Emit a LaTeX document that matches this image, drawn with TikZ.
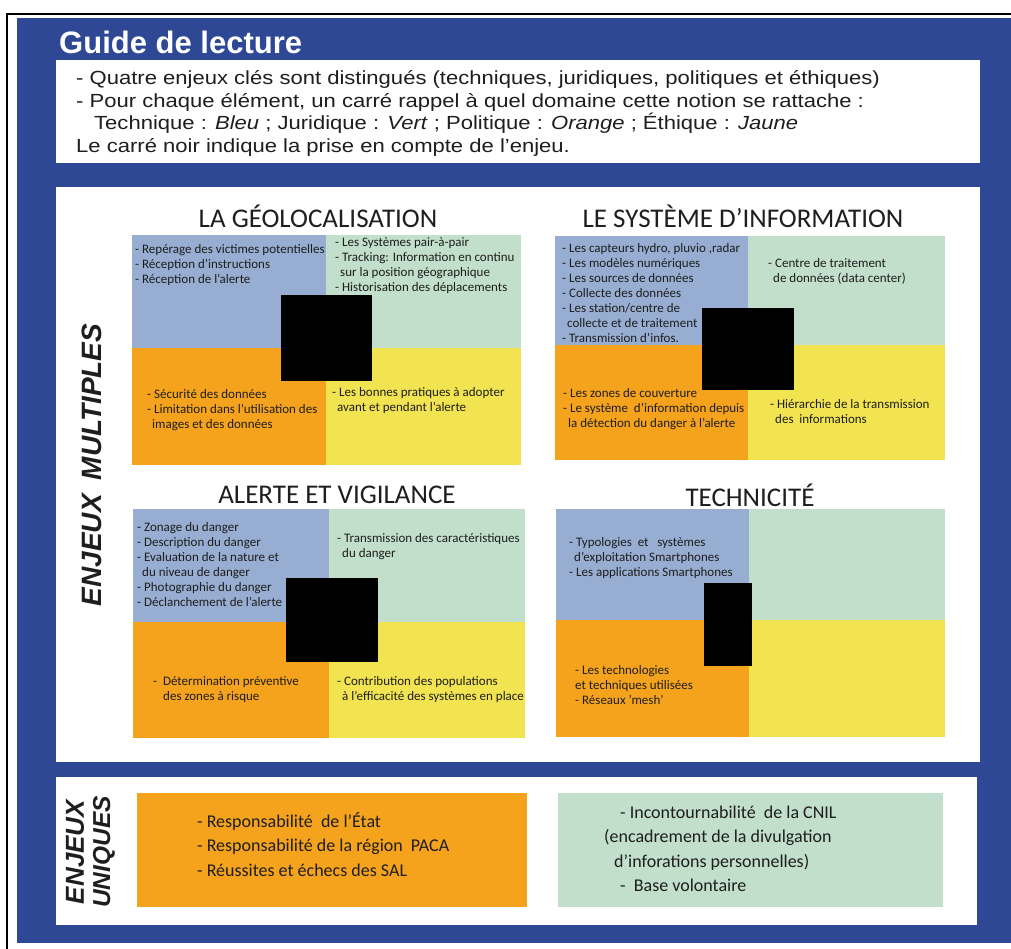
\documentclass[tikz,border=0pt]{standalone}
\usepackage{fontspec}
\setmainfont{Liberation Sans}
\newfontfamily\humfont{Carlito}
\newfontfamily\guidefont[FakeStretch=1.16]{Liberation Sans}
\definecolor{navy}{RGB}{46,72,150}
\definecolor{qblue}{RGB}{151,173,209}
\definecolor{qgreen}{RGB}{193,223,202}
\definecolor{qorange}{RGB}{245,163,29}
\definecolor{qyellow}{RGB}{242,228,80}
\definecolor{ink}{RGB}{30,30,30}
% four coloured quarters: #1 x0, #2 x mid, #3 x1, #4 y0, #5 y mid, #6 y1
\newcommand\fourfold[6]{%
  \fill[qblue]   (#1,#4) rectangle (#2,#5);
  \fill[qgreen]  (#2,#4) rectangle (#3,#5);
  \fill[qorange] (#1,#5) rectangle (#2,#6);
  \fill[qyellow] (#2,#5) rectangle (#3,#6);
}
\newcommand\ind{\hspace*{5pt}}
\begin{document}
\begin{tikzpicture}[x=1pt,y=-1pt,
  panel/.style={fill=white},
  marker/.style={fill=black},
  itemtext/.style={anchor=north west, inner sep=0pt, align=left, text=ink,
    font=\humfont\fontsize{13}{15}\selectfont},
  blocktitle/.style={inner sep=0pt, text=ink, font=\humfont\fontsize{27}{30}\selectfont},
  guidetext/.style={anchor=north west, inner sep=0pt, align=left, text=ink,
    font=\guidefont\fontsize{19}{22.5}\selectfont},
  sidelabel/.style={inner sep=0pt, rotate=90, text=ink,
    font=\bfseries\itshape\fontsize{28}{30}\selectfont},
  bigtext/.style={anchor=north west, inner sep=0pt, align=left, text=ink,
    font=\humfont\fontsize{18}{24.5}\selectfont},
]
\useasboundingbox (0,0) rectangle (1011,949);

% frame and background
\fill[navy] (17,18) rectangle (1011,943);
\draw[line width=2pt] (7,949) -- (7,14) -- (1011,14);

% reading guide
\node[anchor=west, inner sep=0pt, text=white, font=\bfseries\fontsize{31}{34}\selectfont]
  (guidehead) at (59,42) {Guide de lecture};
\fill[panel] (56,60) rectangle (980,163);
\node[guidetext] (guidebody) at (76,69) {\strut- Quatre enjeux clés sont distingués (techniques, juridiques, politiques et éthiques)\\
- Pour chaque élément, un carré rappel à quel domaine cette notion se rattache :\\
\hspace*{18pt}Technique : \textit{Bleu} ; Juridique : \textit{Vert} ; Politique : \textit{Orange} ; Éthique : \textit{Jaune}\\
Le carré noir indique la prise en compte de l’enjeu.};

% multiple issues panel
\fill[panel] (56,187) rectangle (980,762);
\node[sidelabel] (multi) at (92,465) {ENJEUX\hspace{14pt}MULTIPLES};

% --- geolocation
\node[blocktitle] (t1) at (318,216) {LA GÉOLOCALISATION};
\fourfold{132}{326}{521}{235}{348}{465}
\node[itemtext] (b1a) at (135,242.5) {\strut- Repérage des victimes potentielles\\- Réception d’instructions\\- Réception de l’alerte};
\node[itemtext] (b1b) at (335,235.5) {\strut- Les Systèmes pair-à-pair\\- Tracking: Information en continu\\\ind sur la position géographique\\- Historisation des déplacements};
\node[itemtext] (b1c) at (147,387.5) {\strut- Sécurité des données\\- Limitation dans l’utilisation des\\\ind images et des données};
\node[itemtext] (b1d) at (332,385.5) {\strut- Les bonnes pratiques à adopter\\\ind avant et pendant l’alerte};
\fill[marker] (281,295) rectangle (372,381);

% --- information system
\node[blocktitle] (t2) at (743,216) {LE SYSTÈME D’INFORMATION};
\fourfold{555}{748}{945}{236}{345}{460}
\node[itemtext] (b2a) at (562,241.5) {\strut- Les capteurs hydro, pluvio ,radar\\- Les modèles numériques\\- Les sources de données\\- Collecte des données\\- Les station/centre de\\\ind collecte et de traitement\\- Transmission d’infos.};
\node[itemtext] (b2b) at (768,256.5) {\strut- Centre de traitement\\\ind de données (data center)};
\node[itemtext] (b2c) at (563,386.5) {\strut- Les zones de couverture\\- Le système\ \ d’information depuis\\\ind la détection du danger à l’alerte};
\node[itemtext] (b2d) at (770,397.5) {\strut- Hiérarchie de la transmission\\\ind des\ \ informations};
\fill[marker] (702,308) rectangle (794,390);

% --- alert and vigilance
\node[blocktitle] (t3) at (337,495) {ALERTE ET VIGILANCE};
\fourfold{133}{329}{525}{509}{622}{738}
\node[itemtext] (b3a) at (137,520.5) {\strut- Zonage du danger\\- Description du danger\\- Evaluation de la nature et\\\ind du niveau de danger\\- Photographie du danger\\- Déclanchement de l’alerte};
\node[itemtext] (b3b) at (337,531.5) {\strut- Transmission des caractéristiques\\\ind du danger};
\node[itemtext] (b3c) at (153,674.5) {\strut-\ \ Détermination préventive\\\hspace*{10pt}des zones à risque};
\node[itemtext] (b3d) at (337,674.5) {\strut- Contribution des populations\\\ind à l’efficacité des systèmes en place};
\fill[marker] (286,578) rectangle (378,662);

% --- technicity
\node[blocktitle] (t4) at (750,495) {TECHNICITÉ};
\fourfold{556}{749}{945}{509}{620}{737}
\node[itemtext] (b4a) at (569,535.5) {\strut- Typologies\ \ et\ \ \ systèmes\\\ind d’exploitation Smartphones\\- Les applications Smartphones};
\node[itemtext] (b4c) at (575,663.5) {\strut- Les technologies\\et techniques utilisées\\- Réseaux ’mesh’};
\fill[marker] (704,583) rectangle (752,666);

% single issues panel
\fill[panel] (56,777) rectangle (977,925);
\node[sidelabel, font=\bfseries\itshape\fontsize{26}{28}\selectfont] (uni1) at (75,852) {ENJEUX};
\node[sidelabel, font=\bfseries\itshape\fontsize{24.5}{26}\selectfont] (uni2) at (104,852) {UNIQUES};
\fill[qorange] (137,793) rectangle (527,907);
\fill[qgreen] (558,793) rectangle (943,907);
\node[bigtext] (u1) at (197,810) {\strut- Responsabilité\ \ de l’État\\- Responsabilité de la région\ \ PACA\\- Réussites et échecs des SAL};
\node[bigtext] (u2) at (604,801) {\strut\hspace*{16pt}- Incontournabilité\ \ de la CNIL\\(encadrement de la divulgation\\\hspace*{10pt}d’inforations personnelles)\\\hspace*{16pt}-\ \ Base volontaire};
\end{tikzpicture}
\end{document}
